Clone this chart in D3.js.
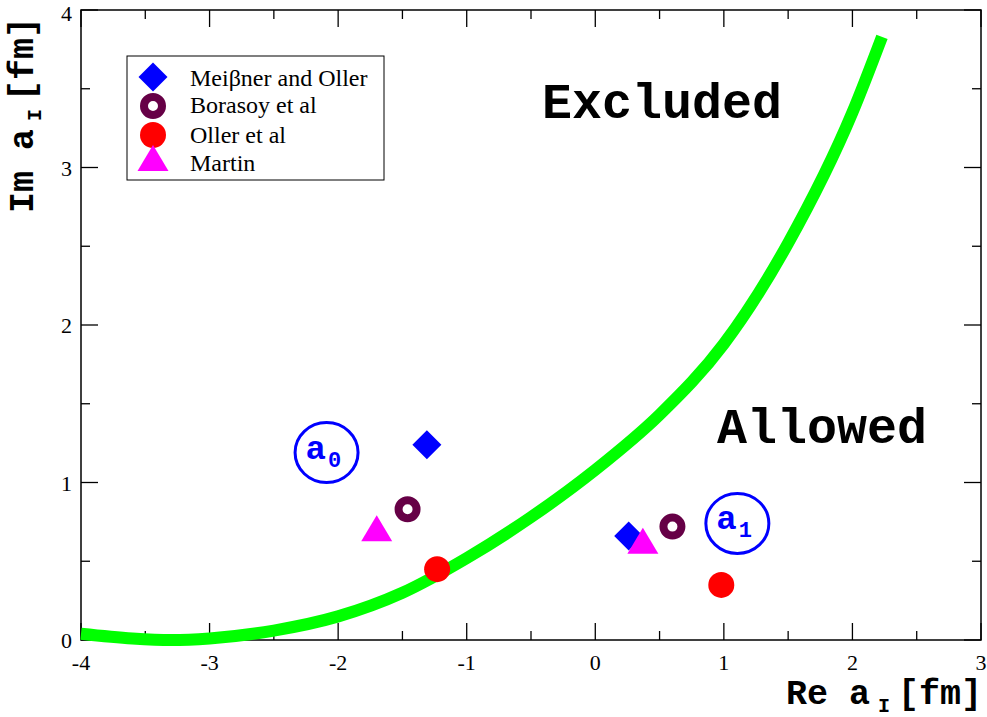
<!DOCTYPE html>
<html lang="en">
<head>
    <meta charset="UTF-8">
    <title>Scattering lengths</title>
    <style>
        body { margin: 0; background: white; }
    </style>
</head>
<body>
<script src="https://d3js.org/d3.v7.min.js"></script>
<script>
    var width = 987;
    var height = 717;

    var serif = "'Liberation Serif', 'Times New Roman', serif";
    var mono = "'Liberation Mono', 'Courier New', monospace";

    // bound curve (green)
    var curveRe = [-4, -3.6, -3.3, -3, -2.5, -2, -1.5, -1, -0.5, 0, 0.5, 1, 1.5, 2, 2.23];
    var curveIm = [0.04, 0.01, 0.0, 0.01, 0.06, 0.15, 0.30, 0.52, 0.78, 1.08, 1.43, 1.88, 2.52, 3.35, 3.83];

    // data sets: a0 value then a1 value
    var seriesNames = ["Meiβner and Oller", "Borasoy et al", "Oller et al", "Martin"];
    var meissnerRe = [-1.31, 0.26];
    var meissnerIm = [1.24, 0.66];
    var borasoyRe = [-1.46, 0.60];
    var borasoyIm = [0.83, 0.72];
    var ollerRe = [-1.23, 0.98];
    var ollerIm = [0.45, 0.35];
    var martinRe = [-1.70, 0.37];
    var martinIm = [0.71, 0.63];

    var xTicks = [-4, -3, -2, -1, 0, 1, 2, 3];
    var yTicks = [0, 1, 2, 3, 4];

    var x = d3.scaleLinear().domain([-4, 3]).range([81, 981]);
    var y = d3.scaleLinear().domain([0, 4]).range([640, 10]);

    var svg = d3.select("body")
        .append("svg")
        .attr("width", width)
        .attr("height", height);

    // frame
    svg.append("rect")
        .attr("x", x(-4)).attr("y", y(4))
        .attr("width", x(3) - x(-4)).attr("height", y(0) - y(4))
        .attr("fill", "none").attr("stroke", "black").attr("stroke-width", 1.5);

    // ticks on all four sides, pointing inwards
    var xMinor = d3.range(-3.5, 3, 1);
    var yMinor = d3.range(0.5, 4, 1);
    var ticks = svg.append("g").attr("stroke", "black").attr("stroke-width", 1.3);
    xTicks.concat(xMinor).forEach(function(v) {
        var len = Number.isInteger(v) ? 17 : 9;
        ticks.append("line").attr("x1", x(v)).attr("x2", x(v)).attr("y1", y(0)).attr("y2", y(0) - len);
        ticks.append("line").attr("x1", x(v)).attr("x2", x(v)).attr("y1", y(4)).attr("y2", y(4) + len);
    });
    yTicks.concat(yMinor).forEach(function(v) {
        var len = Number.isInteger(v) ? 17 : 9;
        ticks.append("line").attr("x1", x(-4)).attr("x2", x(-4) + len).attr("y1", y(v)).attr("y2", y(v));
        ticks.append("line").attr("x1", x(3)).attr("x2", x(3) - len).attr("y1", y(v)).attr("y2", y(v));
    });

    svg.append("g").selectAll("text")
        .data(xTicks)
        .enter().append("text")
        .style("font-family", serif).style("font-size", "22px")
        .attr("x", function(d) { return x(d); })
        .attr("y", y(0) + 30)
        .attr("text-anchor", "middle")
        .text(function(d) { return d; });

    svg.append("g").selectAll("text")
        .data(yTicks)
        .enter().append("text")
        .style("font-family", serif).style("font-size", "22px")
        .attr("x", x(-4) - 9)
        .attr("y", function(d) { return Math.max(y(d) + 8, 21); })
        .attr("text-anchor", "end")
        .text(function(d) { return d; });

    // axis titles
    function axisTitle(t, head) {
        t.style("font-family", mono).style("font-weight", "bold").style("font-size", "35px");
        t.append("tspan").text(head);
        t.append("tspan").attr("dx", 8).attr("dy", 8).style("font-size", "20px").text("I");
        t.append("tspan").attr("dx", 8).attr("dy", -8).text("[fm]");
    }
    axisTitle(svg.append("text").attr("x", 982).attr("y", 704).attr("text-anchor", "end"), "Re a");
    axisTitle(svg.append("text").attr("transform", "translate(33,213) rotate(-90)"), "Im a");

    // region labels
    svg.append("text")
        .style("font-family", mono).style("font-weight", "bold").style("font-size", "50px")
        .attr("x", 662).attr("y", 118).attr("text-anchor", "middle").text("Excluded");
    svg.append("text")
        .style("font-family", mono).style("font-weight", "bold").style("font-size", "50px")
        .attr("x", 822).attr("y", 443).attr("text-anchor", "middle").text("Allowed");

    // the green curve
    var line = d3.line()
        .x(function(d) { return x(d[0]); })
        .y(function(d) { return y(d[1]); })
        .curve(d3.curveMonotoneX);
    svg.append("path")
        .datum(d3.zip(curveRe, curveIm))
        .attr("d", line)
        .attr("fill", "none")
        .attr("stroke", "#00ff00")
        .attr("stroke-width", 12);

    // marker drawing
    function drawMarker(g, type, cx, cy) {
        if (type == "diamond") {
            g.append("path")
                .attr("d", "M" + cx + "," + (cy - 14.5) + "L" + (cx + 14.5) + "," + cy +
                    "L" + cx + "," + (cy + 14.5) + "L" + (cx - 14.5) + "," + cy + "Z")
                .attr("fill", "#0000ff");
        } else if (type == "ring") {
            g.append("circle").attr("cx", cx).attr("cy", cy).attr("r", 9)
                .attr("fill", "none").attr("stroke", "#660046").attr("stroke-width", 8);
        } else if (type == "dot") {
            g.append("circle").attr("cx", cx).attr("cy", cy).attr("r", 13)
                .attr("fill", "#ff0000");
        } else {
            g.append("path")
                .attr("d", "M" + cx + "," + (cy - 13) + "L" + (cx + 15.5) + "," + (cy + 13) +
                    "L" + (cx - 15.5) + "," + (cy + 13) + "Z")
                .attr("fill", "#ff00ff");
        }
    }

    var markerTypes = ["diamond", "ring", "dot", "triangle"];
    var allRe = [meissnerRe, borasoyRe, ollerRe, martinRe];
    var allIm = [meissnerIm, borasoyIm, ollerIm, martinIm];

    var marks = svg.append("g");
    markerTypes.forEach(function(t, i) {
        allRe[i].forEach(function(re, j) {
            drawMarker(marks, t, x(re), y(allIm[i][j]));
        });
    });

    // a0 / a1 labels
    var labelRe = [-2.09, 1.105];
    var labelIm = [1.19, 0.74];
    var labelSub = ["0", "1"];
    labelRe.forEach(function(re, i) {
        var cx = x(re), cy = y(labelIm[i]);
        svg.append("ellipse").attr("cx", cx).attr("cy", cy).attr("rx", 31.5).attr("ry", 30)
            .attr("fill", "none").attr("stroke", "#0000ff").attr("stroke-width", 3);
        var t = svg.append("text")
            .attr("x", cx - 21).attr("y", cy + 6)
            .attr("fill", "#0000ff")
            .style("font-family", mono)
            .style("font-weight", "bold")
            .style("font-size", "34px");
        t.append("tspan").text("a");
        t.append("tspan").attr("dx", 2).attr("dy", 8).style("font-size", "22px").text(labelSub[i]);
    });

    // legend
    var legend = svg.append("g");
    legend.append("rect")
        .attr("x", 127).attr("y", 56).attr("width", 257).attr("height", 124)
        .attr("fill", "white").attr("stroke", "black").attr("stroke-width", 1);
    var legendY = [77, 106, 135, 158];
    var textY = [86, 113, 143, 171];
    seriesNames.forEach(function(name, i) {
        drawMarker(legend, markerTypes[i], 153, legendY[i]);
        legend.append("text")
            .style("font-family", serif).style("font-size", "24px")
            .attr("x", 190).attr("y", textY[i]).text(name);
    });
</script>
</body>
</html>
